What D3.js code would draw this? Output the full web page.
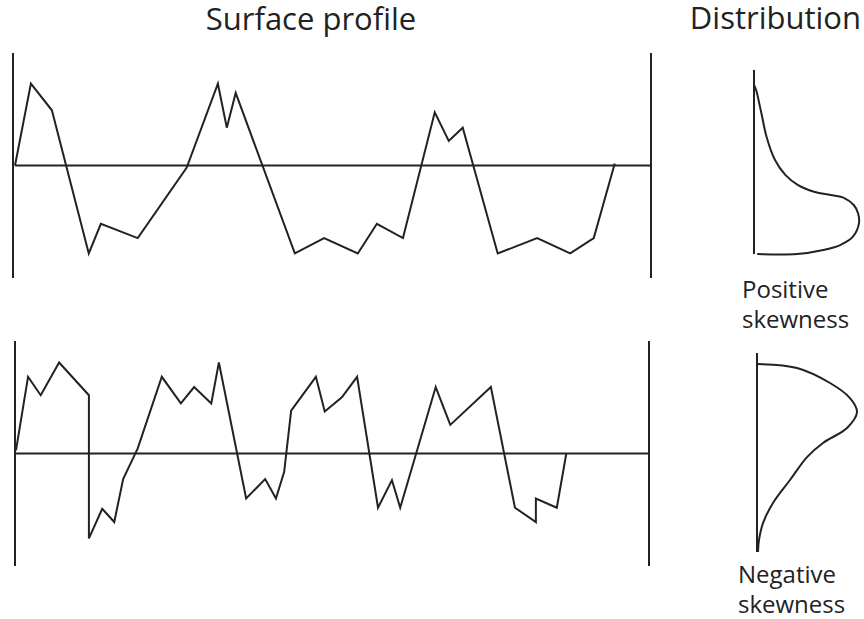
<!DOCTYPE html>
<html>
<head>
<meta charset="utf-8">
<script src="https://cdn.jsdelivr.net/npm/d3@7"></script>
<style>
  body { margin: 0; background: #fff; }
  svg { display: block; }
  text { font-family: "Open Sans", sans-serif; fill: #222; }
  .line { fill: none; stroke: #222; stroke-width: 2; stroke-linejoin: miter; }
  .axis { stroke: #222; stroke-width: 2; }
</style>
</head>
<body>
<svg id="chart"></svg>
<script>
// surface profiles: position along the surface (x) and height (y)
const topX = [0, 0.25, 0.58, 1.16, 1.35, 1.93, 2.70, 3.19, 3.33, 3.47, 4.40, 4.86, 5.39, 5.69, 6.10, 6.60, 6.82, 7.04, 7.59, 8.21, 8.73, 9.10, 9.43];
const topY = [0, 8.0, 5.4, -8.6, -5.7, -7.1, -0.2, 8.0, 3.7, 7.1, -8.6, -7.1, -8.6, -5.7, -7.1, 5.2, 2.4, 3.7, -8.6, -7.1, -8.6, -7.1, 0.2];

const bottomX = [0, 0.19, 0.39, 0.68, 1.15, 1.15, 1.36, 1.55, 1.69, 1.92, 2.30, 2.60, 2.81, 3.08, 3.20, 3.63, 3.93, 4.10, 4.23, 4.34, 4.73, 4.87, 5.14, 5.38, 5.71, 5.93, 6.06, 6.62, 6.85, 7.49, 7.87, 8.20, 8.20, 8.53, 8.68];
const bottomY = [0.3, 7.5, 5.7, 8.9, 5.7, -8.3, -5.4, -6.7, -2.5, 0.5, 7.5, 4.9, 6.5, 4.9, 8.9, -4.4, -2.5, -4.4, -1.8, 4.2, 7.5, 4.1, 5.5, 7.5, -5.3, -2.6, -5.3, 6.5, 2.8, 6.5, -5.3, -6.7, -4.4, -5.3, 0];

// height distributions: level (0 = top, 100 = bottom) and density
const posLevel = [0, 3, 16.6, 30.8, 44.4, 53.3, 59.2, 63.3, 65.1, 66.9, 71, 75.7, 81.7, 89.9, 94.7, 97.6, 100, 100];
const posDensity = [0, 0.02, 0.07, 0.12, 0.2, 0.3, 0.42, 0.58, 0.73, 0.86, 0.95, 0.99, 1.0, 0.94, 0.82, 0.66, 0.41, 0.03];

const negLevel = [0, 2.1, 10.1, 18.1, 25.5, 34, 42, 49.5, 61.7, 73.9, 84.6, 93.6, 100];
const negDensity = [0, 0.40, 0.73, 0.93, 1.0, 0.90, 0.66, 0.50, 0.33, 0.16, 0.06, 0.02, 0.01];

const titles = ["Surface profile", "Distribution"];
const labels = [["Positive", "skewness"], ["Negative", "skewness"]];

const width = 864, height = 619;
const svg = d3.select("#chart").attr("width", width).attr("height", height);

// profile panels
const panels = [
  { xs: topX, ys: topY, left: 13, right: 651, top: 53, bottom: 278, x0: 15, x1: 651 },
  { xs: bottomX, ys: bottomY, left: 15, right: 649, top: 341, bottom: 566, x0: 16, x1: 650 }
];

panels.forEach(p => {
  const x = d3.scaleLinear().domain([0, 10]).range([p.x0, p.x1]);
  const y = d3.scaleLinear().domain([-11, 11]).range([p.bottom, p.top]);
  const g = svg.append("g");

  g.append("line").attr("class", "axis")
    .attr("x1", p.left).attr("x2", p.left).attr("y1", p.top).attr("y2", p.bottom);
  g.append("line").attr("class", "axis")
    .attr("x1", p.right).attr("x2", p.right).attr("y1", p.top).attr("y2", p.bottom);
  g.append("line").attr("class", "axis")
    .attr("x1", x(0)).attr("x2", p.right).attr("y1", y(0)).attr("y2", y(0));

  const pts = p.xs.map((v, i) => [v, p.ys[i]]);
  g.append("path").attr("class", "line")
    .attr("d", d3.line().x(d => x(d[0])).y(d => y(d[1]))(pts));
});

// distribution panels
const dists = [
  { level: posLevel, dens: posDensity, axisX: 754, axisTop: 70, axisBottom: 254, y0: 85, y1: 254, maxX: 859 },
  { level: negLevel, dens: negDensity, axisX: 757, axisTop: 353, axisBottom: 552, y0: 364, y1: 552, maxX: 857 }
];

dists.forEach(dd => {
  const x = d3.scaleLinear().domain([0, 1]).range([dd.axisX, dd.maxX]);
  const y = d3.scaleLinear().domain([0, 100]).range([dd.y0, dd.y1]);
  const g = svg.append("g");
  g.append("line").attr("class", "axis")
    .attr("x1", dd.axisX).attr("x2", dd.axisX).attr("y1", dd.axisTop).attr("y2", dd.axisBottom);
  const pts = dd.level.map((v, i) => [dd.dens[i], v]);
  g.append("path").attr("class", "line")
    .attr("d", d3.line().curve(d3.curveCatmullRom.alpha(0.5)).x(d => x(d[0])).y(d => y(d[1]))(pts));
});

// titles
svg.append("text").attr("x", 311).attr("y", 30).attr("text-anchor", "middle")
  .style("font-size", "31px").text(titles[0]);
svg.append("text").attr("x", 861).attr("y", 29).attr("text-anchor", "end")
  .style("font-size", "31px").text(titles[1]);

// skewness labels
const labelPos = [{ x: 742, y: 298 }, { x: 738, y: 583 }];
labels.forEach((lines, i) => {
  lines.forEach((t, j) => {
    svg.append("text").attr("x", labelPos[i].x).attr("y", labelPos[i].y + j * 30)
      .style("font-size", "24px").text(t);
  });
});
</script>
</body>
</html>
